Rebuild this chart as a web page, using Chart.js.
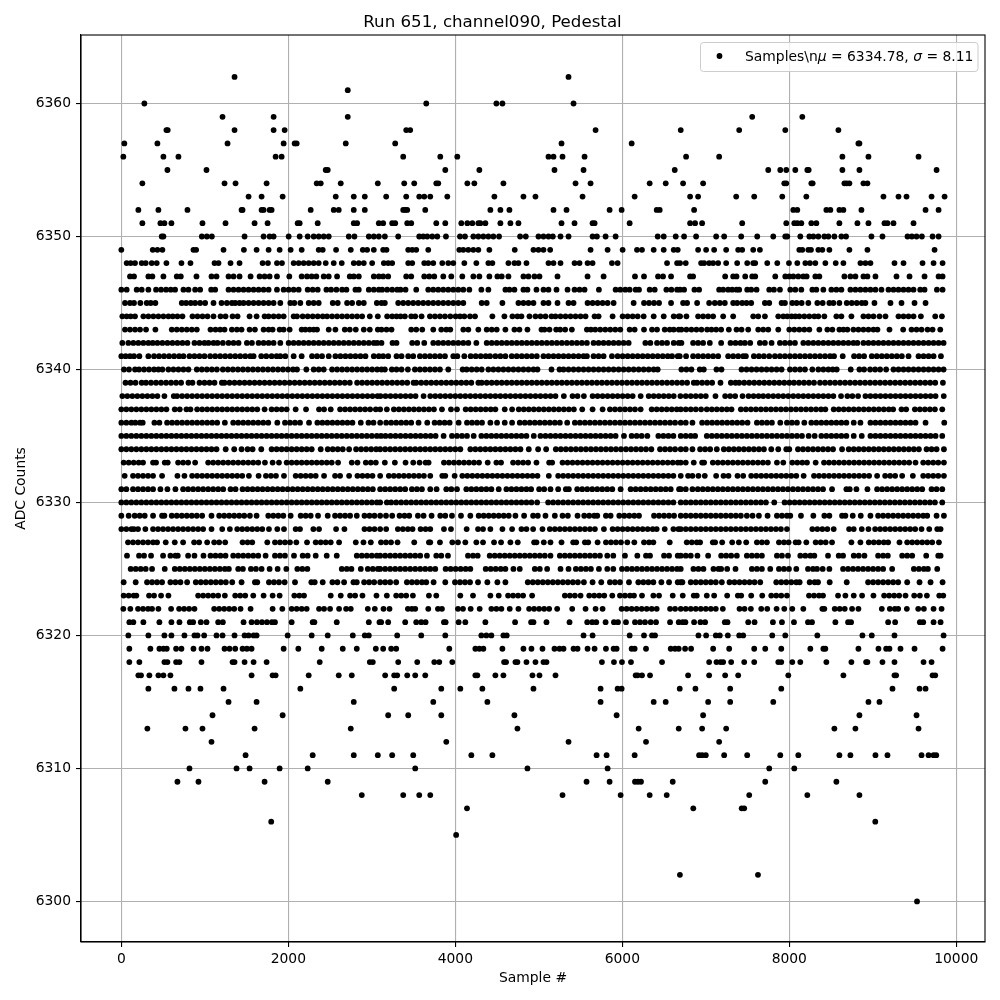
<!DOCTYPE html>
<html>
<head>
<meta charset="utf-8">
<title>Run 651, channel090, Pedestal</title>
<script src="https://cdn.jsdelivr.net/npm/chart.js@4"></script>
<style>
  html, body { margin: 0; padding: 0; background: #fff; }
  canvas { display: block; }
</style>
</head>
<body>
<canvas id="pedestalChart" width="1000" height="1000"></canvas>
<script>
// sample numbers, one list per ADC count
const s6362 = [1356,5356];
const s6361 = [2712];
const s6360 = [276,3652,4492,4564,5416];
const s6359 = [1212,1824,2712,7556,8156];
const s6358 = [540,556,1356,1824,1956,3412,3460,5680,6700,7400,7952,8588];
const s6357 = [36,432,1272,1944,2076,2100,2688,3280,5272,6112,8828,8840];
const s6356 = [24,504,684,1848,1920,3376,3820,4024,5116,5176,5284,5548,6764,7160,8636,8948,9548];
const s6355 = [552,1020,2448,2472,3880,4288,5188,5536,6628,7748,7892,7964,8072,8216,8232,8636,8840,9764];
const s6354 = [252,1236,1368,1740,2340,2388,2628,3072,3388,3508,3772,3796,4144,4228,4576,5440,5620,6328,6520,6728,6968,7940,7964,8264,8280,8660,8688,8720,8888,8936];
const s6353 = [1524,1680,1932,2568,2784,2916,3172,3412,3568,3628,3700,3904,4468,4816,4960,5524,6148,6812,6908,7364,7580,7916,8204,9128,9308,9404,9704,9860];
const s6352 = [204,444,792,1440,1452,1680,1704,1776,1800,2268,2544,2604,2784,2916,3376,3400,3424,3640,4420,4540,4648,5176,5332,5848,5992,6412,6448,6860,8048,8096,8444,8492,8600,8648,8864,9632,9788];
const s6351 = [252,468,516,600,972,1248,1596,1752,2112,2136,2352,2784,2824,3084,3136,3244,3280,3424,3472,3772,3880,4072,4144,4204,4276,4300,4360,4540,4660,4756,5272,5428,5644,5668,6088,6812,6872,6956,7436,7964,8060,8096,8144,8264,8324,8600,8816,8948,9140,9176,9248,9488];
const s6350 = [484,504,964,1024,1084,1476,1704,1776,1824,2004,2136,2232,2304,2364,2424,2484,2724,2792,2964,3024,3084,3156,3316,3568,3616,3664,3724,3784,3888,4056,4116,4216,4276,4336,4396,4456,4524,4776,4844,4996,5056,5116,5168,5260,5356,5644,5696,5800,5920,6424,6496,6640,6740,6884,7124,7220,7424,7616,7808,7952,7976,8132,8240,8288,8348,8420,8468,8540,8624,8680,8984,9116,9416,9468,9524,9588,9716,9788];
const s6349 = [0,376,432,492,864,896,1224,1468,1620,1764,1896,2028,2160,2364,2412,2572,2748,2892,2944,3024,3136,3176,3436,3484,3532,3676,4048,4096,4156,4216,4276,4408,4712,4936,4996,5056,5136,5620,5824,6004,6176,6236,6376,6496,6616,6664,6908,7004,7100,7244,7388,7436,7568,7648,8120,8156,8228,8260,8348,8396,8480,8720,8936,9740];
const s6348 = [64,112,164,244,292,364,424,540,720,828,1116,1164,1308,1416,1692,1756,1864,1924,2064,2124,2184,2244,2304,2364,2448,2544,2640,2784,2844,2904,3004,3144,3196,3244,3436,3484,3628,3676,3736,3844,3916,3976,4108,4252,4396,4444,4636,4708,4756,4852,5116,5176,5260,5428,5488,5584,5644,5876,5944,6536,6656,6692,6760,6944,6980,7040,7088,7148,7244,7376,7496,7568,7592,7736,7856,7996,8096,8192,8248,8312,8432,8556,8648,8852,8912,8972,9260,9368,9596,9728,9836];
const s6347 = [104,152,324,372,504,664,712,900,1080,1140,1284,1344,1416,1548,1656,1716,1776,1864,2012,2160,2224,2280,2336,2424,2484,2584,2736,2784,2844,3024,3084,3136,3196,3412,3472,3628,3688,3748,3856,3952,4084,4216,4288,4408,4504,4556,4636,4816,4876,4948,5008,5224,5584,5776,6152,6260,6428,6488,6584,6812,6848,7232,7328,7368,7472,7556,7592,7832,7952,8000,8048,8108,8168,8208,8312,8360,8660,8732,8792,8888,8936,9032,9284,9440,9620,9788,9836];
const s6346 = [0,64,184,244,324,416,476,536,592,644,744,804,884,944,1076,1124,1284,1344,1404,1464,1524,1584,1644,1704,1764,1864,1944,2004,2064,2124,2232,2292,2352,2456,2512,2576,2644,2696,2804,2844,2964,3024,3084,3124,3184,3244,3304,3344,3404,3532,3676,3736,3796,3856,3916,3976,4036,4096,4168,4312,4396,4600,4648,4708,4816,4864,4972,5056,5116,5212,5344,5428,5488,5548,5720,5920,5976,6036,6088,6160,6200,6328,6388,6528,6588,6656,6692,6740,6864,6920,7160,7208,7268,7316,7368,7400,7496,7544,7608,7760,7816,7888,8012,8072,8144,8276,8324,8408,8504,8564,8624,8732,8792,8852,8912,8972,9032,9104,9188,9248,9308,9368,9428,9488,9568,9620,9768,9836];
const s6345 = [44,104,152,228,304,352,408,724,776,832,884,944,1004,1104,1200,1264,1324,1364,1416,1464,1524,1584,1644,1704,1764,1824,1904,2024,2072,2144,2244,2304,2364,2532,2592,2704,2764,2844,2904,3060,3116,3156,3316,3376,3436,3496,3556,3616,3676,3736,3796,3856,3916,3976,4036,4096,4316,4376,4564,4756,4816,4876,4936,5056,5116,5224,5356,5416,5584,5644,5704,5764,5824,5896,6136,6260,6320,6380,6440,6584,6728,6776,6896,7040,7108,7168,7228,7328,7376,7436,7488,7544,7708,7760,7908,7948,8036,8088,8148,8228,8336,8400,8480,8528,8600,8688,8748,8808,8868,8912,9020,9212,9344,9500,9632];
const s6344 = [12,64,112,164,264,324,384,444,504,564,616,672,732,852,912,972,1032,1104,1188,1248,1332,1392,1536,1620,1716,1764,1824,1884,1944,2064,2104,2172,2232,2292,2352,2412,2464,2524,2584,2644,2704,2764,2824,2884,2976,3072,3184,3244,3296,3344,3396,3472,3520,3596,3696,3756,3816,3876,3940,4004,4056,4108,4176,4236,4444,4588,4684,4744,4792,4888,4960,5020,5080,5152,5200,5260,5320,5380,5440,5500,5560,5668,5716,5884,6004,6064,6124,6184,6256,6376,6496,6616,6676,6692,6768,6908,6968,7028,7088,7208,7328,7568,7628,7708,7868,7928,7976,8028,8072,8120,8180,8240,8300,8348,8420,8564,8624,8744,8888,8948,9008,9080,9152,9308,9368,9428,9488,9576,9748,9828];
const s6343 = [44,104,164,224,296,408,604,664,724,784,844,904,1068,1128,1184,1236,1324,1384,1440,1536,1600,1704,1764,1812,1896,1944,2016,2160,2204,2256,2304,2344,2484,2564,2676,2736,2808,2904,2976,3072,3116,3176,3236,3472,3532,3604,3736,3832,3892,3940,4096,4156,4276,4376,4436,4496,4600,4708,4768,4864,5032,5068,5128,5208,5256,5316,5396,5576,5624,5676,5736,5796,5856,5916,5976,6088,6148,6260,6356,6416,6508,6568,6616,6676,6708,6768,6828,6888,6948,7016,7068,7124,7184,7276,7368,7428,7508,7628,7688,7748,7868,8000,8060,8120,8180,8240,8360,8456,8516,8600,8648,8696,8768,8828,8888,8948,9008,9056,9200,9364,9464,9524,9584,9656,9716,9808];
const s6342 = [12,84,144,204,264,324,376,432,492,552,612,672,732,792,876,936,996,1044,1104,1152,1216,1284,1344,1404,1504,1564,1644,1704,1764,1824,1904,2004,2064,2124,2184,2244,2304,2364,2424,2484,2544,2604,2664,2724,2784,2844,2904,2964,3024,3064,3116,3248,3296,3484,3544,3628,3736,3796,3856,3916,3976,4036,4096,4156,4252,4376,4436,4496,4556,4616,4676,4736,4796,4856,4916,4976,5036,5096,5156,5216,5276,5336,5396,5456,5516,5576,5656,5716,5776,5836,5896,5956,6016,6076,6276,6336,6416,6476,6536,6616,6676,6708,6848,6908,6968,7048,7184,7296,7356,7416,7468,7532,7648,7708,7788,7888,7948,8008,8068,8168,8228,8288,8348,8408,8468,8528,8588,8648,8708,8768,8816,8888,8948,9008,9068,9128,9188,9248,9308,9368,9428,9488,9548,9608,9668,9728,9788,9848];
const s6341 = [0,52,104,152,216,324,392,452,512,572,632,692,744,816,876,936,996,1064,1124,1184,1244,1304,1364,1424,1484,1544,1584,1676,1736,1800,1860,1904,1964,2064,2160,2284,2344,2404,2484,2564,2624,2684,2744,2804,2864,2924,3024,3084,3136,3196,3296,3356,3436,3496,3576,3636,3696,3756,3816,3876,3976,4024,4108,4184,4244,4304,4364,4416,4480,4540,4600,4676,4736,4796,4856,4916,4976,5056,5116,5176,5236,5296,5356,5416,5476,5536,5576,5656,5716,5776,5876,5944,6004,6064,6124,6184,6244,6304,6364,6424,6484,6544,6596,6664,6688,6764,6848,6908,6968,7028,7088,7148,7268,7328,7388,7448,7480,7576,7636,7696,7760,7828,7888,7948,8008,8068,8128,8188,8248,8308,8368,8428,8488,8536,8640,8776,8836,8896,8988,9048,9108,9168,9228,9288,9348,9428,9548,9608,9668,9728,9816];
const s6340 = [32,92,164,212,272,332,392,444,492,564,624,684,744,804,904,964,1024,1084,1144,1216,1276,1336,1396,1456,1516,1576,1636,1696,1756,1816,1876,1936,1996,2056,2104,2216,2304,2364,2424,2524,2584,2644,2704,2764,2824,2884,2944,3004,3064,3116,3156,3240,3296,3356,3432,3516,3576,3636,3696,3756,3816,3916,4088,4136,4196,4256,4316,4396,4456,4516,4576,4636,4696,4756,4816,4876,4936,4984,5152,5248,5296,5356,5416,5476,5536,5596,5656,5716,5776,5836,5896,5956,6016,6076,6136,6196,6256,6316,6376,6424,6708,6768,6828,6928,6976,7128,7188,7428,7488,7548,7608,7668,7728,7788,7848,7908,8008,8068,8128,8188,8276,8348,8408,8468,8520,8568,8736,8840,8896,8968,9028,9088,9160,9248,9308,9368,9428,9488,9548,9608,9668,9728,9788,9848];
const s6339 = [50,110,170,244,296,356,416,476,536,596,656,716,804,852,936,996,1056,1116,1204,1236,1296,1356,1416,1476,1536,1596,1656,1716,1776,1836,1896,1956,2016,2076,2136,2196,2256,2316,2376,2436,2496,2556,2616,2676,2736,2824,2884,2944,3004,3064,3124,3184,3244,3304,3364,3424,3500,3532,3592,3652,3712,3772,3832,3892,3952,4012,4072,4132,4192,4276,4316,4376,4436,4496,4556,4616,4676,4736,4796,4856,4916,4976,5036,5096,5156,5216,5276,5336,5396,5456,5516,5576,5636,5696,5756,5816,5876,5936,5996,6056,6116,6176,6236,6296,6356,6416,6476,6536,6596,6656,6716,6776,6856,6896,6956,7016,7076,7176,7300,7356,7400,7460,7520,7580,7640,7700,7760,7820,7880,7940,8000,8056,8116,8176,8236,8296,8368,8428,8488,8548,8608,8668,8728,8788,8848,8908,8968,9028,9088,9148,9208,9268,9328,9388,9448,9508,9568,9628,9688,9748,9840];
const s6338 = [12,72,132,192,252,312,372,432,516,628,668,728,788,848,908,968,1028,1088,1148,1208,1268,1328,1388,1448,1508,1568,1628,1688,1748,1808,1868,1928,1988,2048,2108,2168,2228,2288,2348,2408,2468,2528,2588,2648,2708,2768,2828,2888,2948,3008,3068,3104,3164,3224,3284,3344,3404,3464,3524,3620,3700,3760,3820,3880,3940,4000,4060,4120,4180,4240,4300,4360,4420,4480,4540,4600,4660,4720,4780,4840,4900,4960,5020,5080,5140,5200,5300,5404,5464,5540,5644,5704,5764,5824,5884,5944,6004,6064,6124,6220,6316,6376,6436,6496,6556,6616,6696,6760,6820,6880,6940,7000,7116,7232,7292,7352,7440,7512,7572,7632,7688,7748,7808,7868,7928,7988,8048,8108,8168,8228,8288,8348,8408,8468,8528,8620,8696,8756,8824,8912,8972,9032,9092,9152,9212,9272,9332,9392,9452,9512,9572,9632,9692,9752,9850];
const s6337 = [0,60,120,180,240,300,360,420,480,540,640,700,780,828,908,968,1028,1088,1148,1208,1268,1328,1388,1448,1508,1568,1628,1716,1800,1860,1920,1980,2088,2212,2368,2428,2508,2620,2680,2740,2800,2860,2920,2980,3048,3100,3180,3264,3324,3384,3444,3504,3564,3624,3684,3744,3840,3948,4020,4124,4184,4244,4304,4364,4424,4480,4592,4680,4760,4820,4880,4940,5000,5060,5120,5180,5240,5300,5360,5420,5520,5644,5764,5852,5912,5972,6032,6092,6152,6220,6352,6412,6472,6532,6592,6652,6700,6760,6820,6880,6944,7012,7072,7132,7192,7252,7308,7420,7480,7540,7600,7660,7720,7780,7840,7900,7960,8020,8080,8140,8200,8260,8320,8380,8432,8532,8592,8652,8712,8772,8832,8892,8952,9012,9072,9132,9192,9244,9344,9400,9504,9564,9624,9684,9744,9832];
const s6336 = [0,60,120,168,224,256,396,456,548,608,668,728,788,848,908,968,1028,1088,1148,1240,1340,1400,1460,1520,1580,1640,1700,1760,1868,1960,2020,2080,2140,2248,2348,2408,2468,2528,2588,2648,2708,2768,2868,2960,3020,3100,3172,3232,3292,3352,3412,3472,3560,3664,3752,3812,3872,3932,4040,4140,4200,4260,4320,4420,4500,4592,4680,4772,4832,4892,4952,5012,5072,5132,5192,5252,5340,5432,5492,5552,5612,5672,5732,5792,5852,5912,5972,6032,6092,6152,6212,6272,6332,6392,6452,6512,6572,6632,6700,6760,6840,6956,7016,7076,7136,7196,7256,7316,7376,7436,7500,7612,7672,7732,7792,7892,7972,8032,8092,8180,8264,8324,8384,8444,8504,8564,8624,8684,8772,8852,8972,9032,9092,9152,9212,9272,9332,9392,9452,9512,9632,9856];
const s6335 = [0,60,120,180,240,300,360,420,480,540,600,660,720,780,840,900,960,1020,1080,1140,1200,1260,1320,1380,1440,1500,1560,1620,1680,1740,1800,1860,1920,1980,2040,2100,2160,2220,2280,2340,2400,2460,2520,2580,2640,2700,2760,2820,2880,2940,3000,3060,3110,3164,3224,3284,3344,3404,3464,3524,3584,3644,3704,3764,3860,3960,4020,4080,4140,4220,4312,4372,4432,4492,4552,4612,4672,4732,4792,4852,4940,5020,5080,5140,5200,5260,5320,5380,5440,5500,5560,5620,5680,5740,5800,5860,5920,6020,6112,6172,6232,6300,6432,6492,6552,6612,6700,6760,6820,6872,7012,7072,7132,7192,7252,7312,7372,7432,7492,7552,7612,7672,7732,7792,7852,7912,7972,8032,8092,8152,8232,8304,8384,8444,8504,8564,8624,8684,8772,8868,8972,9032,9092,9152,9212,9272,9332,9392,9452,9512,9572,9632,9692,9752,9832];
const s6334 = [0,60,120,180,240,300,360,420,480,540,600,660,720,780,840,900,960,1020,1080,1140,1250,1352,1440,1512,1572,1676,1800,1860,1920,1980,2040,2100,2160,2220,2280,2388,2472,2532,2592,2652,2728,2812,2872,2932,2992,3052,3100,3160,3220,3280,3340,3400,3460,3520,3580,3640,3700,3760,3820,3880,3940,4000,4060,4180,4240,4300,4360,4420,4480,4540,4600,4660,4720,4780,4880,4992,5088,5204,5264,5324,5384,5444,5504,5564,5624,5684,5744,5804,5864,5924,5984,6044,6104,6164,6224,6284,6348,6452,6512,6572,6632,6700,6760,6840,6932,6992,7052,7132,7216,7276,7336,7396,7456,7516,7576,7636,7696,7784,7868,7964,8000,8104,8164,8224,8284,8344,8404,8464,8524,8632,8712,8772,8832,8892,8952,9012,9072,9132,9192,9252,9312,9372,9432,9492,9552,9644,9704,9764,9852];
const s6333 = [28,88,148,208,260,380,416,520,556,680,740,800,884,1040,1100,1160,1220,1280,1340,1400,1460,1520,1580,1640,1720,1812,1888,1980,2040,2100,2160,2220,2280,2340,2400,2460,2520,2596,2760,2828,2928,2988,3048,3156,3276,3404,3496,3572,3644,3680,3864,3924,3984,4044,4104,4164,4224,4284,4388,4492,4548,4692,4752,4812,4872,4972,5124,5160,5284,5344,5404,5464,5524,5584,5644,5704,5764,5824,5884,5944,6004,6064,6124,6184,6244,6304,6364,6424,6484,6544,6604,6664,6700,6760,6856,6956,6980,7084,7144,7204,7264,7324,7384,7444,7504,7564,7624,7684,7744,7852,7928,8036,8096,8156,8212,8316,8416,8476,8536,8596,8656,8716,8776,8836,8896,8956,9016,9076,9136,9196,9256,9316,9376,9436,9512,9604,9664,9724,9784,9852];
const s6332 = [40,140,200,260,320,380,488,672,756,848,908,968,1028,1088,1148,1208,1268,1328,1388,1448,1528,1644,1732,1792,1852,1948,2088,2148,2208,2268,2328,2428,2560,2620,2728,2828,2888,2948,3008,3100,3204,3264,3324,3384,3444,3504,3564,3624,3700,3844,3880,3992,4084,4144,4204,4264,4324,4384,4444,4504,4564,4624,4684,4744,4804,4864,4924,4984,5120,5232,5292,5352,5412,5472,5532,5592,5652,5712,5772,5832,5892,5952,6012,6072,6132,6192,6252,6312,6372,6432,6492,6552,6612,6700,6788,6840,6912,6988,7124,7212,7272,7380,7448,7544,7604,7664,7724,7784,7844,7904,7964,8024,8084,8172,8296,8356,8416,8476,8536,8596,8656,8716,8776,8836,8896,8956,9052,9148,9208,9268,9352,9480,9604,9664,9724,9784,9852];
const s6331 = [0,60,140,200,260,320,380,468,552,648,740,800,860,920,980,1040,1100,1160,1220,1308,1368,1452,1512,1572,1632,1692,1752,1812,1872,1932,1992,2052,2112,2172,2232,2292,2352,2412,2472,2532,2592,2652,2712,2772,2832,2892,2952,3012,3100,3160,3220,3280,3340,3400,3480,3540,3600,3700,3776,3892,3952,4020,4132,4192,4252,4312,4372,4432,4520,4612,4672,4732,4792,4852,4908,5004,5064,5140,5232,5324,5360,5460,5520,5580,5640,5700,5760,5820,5880,5980,6100,6160,6220,6280,6340,6400,6460,6520,6580,6680,6700,6760,6840,6904,6964,7024,7084,7144,7204,7264,7324,7384,7444,7504,7564,7624,7684,7744,7804,7864,7924,7984,8044,8104,8164,8224,8284,8344,8404,8512,8684,8724,8804,8936,9052,9112,9172,9232,9292,9352,9412,9472,9532,9592,9704,9764,9832];
const s6330 = [0,60,120,180,240,300,360,420,480,540,600,660,720,780,840,900,960,1020,1080,1140,1200,1260,1320,1380,1440,1500,1560,1620,1680,1740,1800,1860,1920,1980,2040,2100,2160,2220,2280,2340,2400,2460,2520,2580,2640,2700,2760,2820,2880,2940,3000,3060,3100,3180,3232,3292,3352,3412,3472,3532,3592,3652,3712,3772,3832,3892,3952,4012,4072,4132,4192,4252,4312,4372,4432,4492,4552,4612,4672,4732,4792,4852,4912,4980,5112,5172,5232,5292,5352,5412,5472,5532,5592,5652,5712,5772,5832,5892,5952,6012,6072,6132,6192,6252,6312,6372,6432,6492,6552,6612,6700,6760,6820,6880,6940,7000,7060,7120,7180,7240,7300,7360,7420,7480,7540,7600,7660,7720,7820,7944,8004,8064,8124,8184,8244,8304,8364,8424,8484,8544,8604,8664,8724,8784,8844,8904,8964,9024,9084,9144,9204,9264,9324,9384,9444,9504,9564,9624,9684,9744,9832];
const s6329 = [0,88,160,220,280,380,488,516,604,664,724,784,844,904,968,1080,1172,1232,1292,1352,1412,1472,1540,1620,1760,1820,1880,1940,2028,2148,2208,2268,2356,2472,2560,2620,2680,2740,2820,2912,2972,3032,3100,3170,3244,3332,3392,3448,3552,3620,3716,3820,3880,3960,4068,4180,4280,4340,4400,4460,4520,4580,4640,4720,4824,4932,4988,5080,5192,5284,5348,5464,5544,5604,5664,5700,5804,5860,5964,6024,6084,6144,6200,6380,6440,6500,6560,6620,6700,6760,6820,6880,6940,7000,7060,7120,7180,7240,7300,7360,7420,7492,7560,7636,7740,7852,7912,7972,8012,8140,8288,8420,8480,8632,8672,8760,8856,8972,9064,9124,9184,9244,9304,9364,9424,9484,9544,9604,9652,9764,9852];
const s6328 = [0,60,120,150,200,288,380,440,500,560,620,680,740,800,860,920,980,1080,1208,1300,1388,1448,1508,1568,1628,1688,1768,1868,1948,2088,2140,2300,2368,2572,2672,2912,2972,3032,3100,3172,3312,3372,3432,3488,3584,3644,3700,3864,3948,4136,4272,4332,4420,4564,4680,4792,4852,4932,5044,5132,5192,5252,5312,5372,5432,5492,5552,5612,5672,5780,5884,5944,6004,6064,6124,6184,6244,6304,6364,6412,6508,6612,6672,6700,6760,6820,6880,6940,7000,7060,7120,7180,7240,7300,7360,7420,7480,7540,7600,7660,7720,7780,7840,7900,7972,8276,8336,8396,8456,8532,8716,8772,8868,8948,9028,9088,9148,9208,9268,9328,9388,9448,9508,9584,9676,9772,9812];
const s6327 = [80,140,200,260,320,380,428,532,640,740,872,932,1028,1112,1172,1244,1452,1512,1568,1748,1840,1900,1960,2020,2096,2224,2328,2388,2448,2508,2608,2808,2900,2988,3110,3170,3230,3308,3508,3684,3700,3816,3964,4032,4120,4252,4332,4464,4548,4660,4748,4944,4972,5060,5140,5272,5412,5448,5552,5592,5704,5804,5864,5924,5984,6060,6144,6260,6320,6372,6568,6772,6832,6892,6932,7084,7112,7196,7316,7396,7484,7612,7672,7732,7876,7936,7992,8076,8112,8204,8316,8376,8436,8512,8744,8852,8952,9012,9072,9132,9184,9320,9412,9472,9532,9592,9652,9712,9792];
const s6326 = [68,212,272,356,500,588,648,676,800,876,984,1068,1128,1188,1248,1340,1400,1460,1520,1580,1640,1728,1840,1900,1960,2068,2172,2232,2328,2460,2580,2820,2880,2940,3000,3060,3100,3160,3220,3280,3340,3400,3460,3520,3580,3660,3772,3832,3912,4152,4212,4268,4412,4472,4532,4592,4652,4712,4772,4832,4892,4952,5012,5072,5140,5252,5312,5372,5432,5492,5552,5612,5672,5732,5820,5892,6032,6180,6284,6332,6500,6560,6664,6700,6760,6820,6900,7028,7184,7244,7304,7372,7492,7552,7612,7672,7852,7912,7984,8132,8192,8252,8300,8464,8592,8644,8772,8832,8900,9064,9124,9180,9352,9412,9472,9640,9784,9812];
const s6325 = [112,172,232,292,368,520,640,700,760,820,880,940,1000,1060,1120,1180,1240,1288,1400,1456,1552,1612,1680,1776,1872,1976,2108,2168,2228,2640,2700,2756,2868,2952,3012,3072,3100,3160,3220,3280,3340,3400,3460,3520,3580,3640,3700,3760,3884,3944,4004,4064,4124,4180,4364,4424,4484,4544,4600,4696,4772,4952,5012,5100,5260,5356,5444,5504,5564,5624,5720,5820,5892,5996,6056,6116,6176,6236,6296,6356,6416,6476,6536,6596,6656,6700,6852,6912,6972,7092,7152,7184,7256,7356,7552,7612,7672,7772,7876,7936,7996,8084,8224,8284,8332,8400,8480,8644,8704,8764,8824,8884,8944,9004,9064,9124,9232,9492,9552,9612,9660,9772];
const s6324 = [28,172,308,368,428,488,588,648,708,788,892,952,1012,1072,1132,1192,1252,1328,1440,1600,1628,1768,1828,1888,1956,2080,2276,2316,2412,2528,2588,2668,2780,2820,2908,2968,3028,3100,3160,3220,3292,3420,3480,3540,3600,3652,3740,3880,3996,4056,4116,4176,4272,4384,4504,4600,4868,4928,4988,5048,5108,5168,5228,5288,5348,5408,5468,5540,5644,5748,5852,5912,5972,6080,6192,6252,6312,6372,6468,6560,6664,6700,6720,6820,6880,6940,7000,7060,7120,7192,7284,7344,7404,7464,7524,7584,7652,7844,7904,7964,8024,8084,8124,8244,8304,8344,8484,8688,8944,9004,9064,9124,9184,9244,9304,9412,9560,9692,9836];
const s6323 = [28,88,148,180,332,392,476,564,920,980,1040,1100,1160,1240,1364,1424,1484,1580,1704,1812,1896,2072,2132,2188,2508,2628,2740,2800,2888,3056,3180,3292,3352,3412,3492,3684,3772,4060,4212,4420,4520,4632,4692,4752,4812,4920,5312,5372,5432,5500,5604,5664,5724,5784,5880,5972,6032,6092,6140,6236,6372,6440,6604,6724,6856,6892,7012,7100,7256,7384,7424,7544,7676,7784,7844,7904,7972,8236,8296,8356,8404,8584,8672,8772,8872,9008,9136,9196,9256,9316,9392,9496,9564,9648,9796,9844];
const s6322 = [24,108,200,260,320,368,444,596,692,752,812,876,1112,1172,1232,1292,1352,1428,1548,1812,1928,2040,2100,2160,2220,2368,2428,2500,2608,2692,2748,2952,3036,3140,3212,3432,3480,3520,3676,3792,3840,4032,4092,4184,4292,4432,4492,4552,4652,4756,4884,4944,5004,5064,5124,5220,5400,5560,5680,5764,5992,6052,6112,6172,6232,6292,6352,6412,6572,6632,6700,6760,6820,6880,6940,7000,7060,7120,7204,7404,7464,7540,7664,7736,7848,7940,8036,8168,8396,8420,8544,8604,8664,8752,8828,9108,9204,9264,9304,9408,9544,9612,9728,9824];
const s6321 = [96,144,264,456,600,696,820,860,952,1020,1160,1216,1464,1560,1624,1684,1744,1804,1840,2040,2292,2312,2580,2964,3092,3112,3196,3400,3532,3592,3644,3864,3884,4040,4120,4360,4716,4908,4936,5092,5368,5580,5640,5688,5800,5900,5948,6044,6152,6212,6272,6340,6404,6572,6676,6724,6756,6860,6936,6992,7228,7260,7508,7584,7804,7912,8056,8224,8272,8552,8704,8740,9184,9268,9564,9604,9728,9812];
const s6320 = [84,324,516,600,756,876,912,992,1140,1212,1356,1476,1524,1584,1620,1992,2280,2472,2772,2916,2964,3304,3592,3880,4312,4372,4432,4576,4616,5536,5644,6088,6260,6356,6392,6912,7004,7120,7168,7264,7400,7448,7796,7952,8336,8876,8988,9260,9848];
const s6319 = [96,348,456,504,544,656,720,864,960,1032,1236,1296,1364,1452,1504,1560,1944,2120,2400,2652,2820,3048,3136,3232,3292,3928,4240,4288,4336,4564,4816,4912,5044,5188,5248,5296,5416,5464,5584,5668,5804,5896,5932,6112,6148,6284,6580,6632,6676,6752,6824,7088,7280,7580,7712,7904,8252,8408,8432,8828,9068,9160,9200,9332,9500,9836];
const s6318 = [96,216,516,552,656,696,960,1332,1356,1476,1584,1740,2376,2976,3012,3316,3544,3748,3808,3964,4584,4608,4720,4744,4852,4960,5056,5092,5756,5900,5996,6104,6476,7040,7128,7176,7208,7304,7460,7580,7868,7904,8036,8132,8444,8744,8920,8936,9116,9260,9608,9704];
const s6317 = [204,236,336,444,504,588,1560,1812,1848,2244,2604,2760,3160,3268,3304,3424,3520,3640,4240,4264,4480,4576,4924,5008,5200,6160,6184,6236,6332,6788,7040,7232,7388,7988,8648,9260,9280,9716,9748];
const s6316 = [324,636,804,948,1224,2144,3268,3832,4060,4324,4936,5740,5944,5992,6688,6876,7292,7904,9236,9560,9632];
const s6315 = [1284,1620,2784,3736,4384,5740,6376,6520,7028,7292,7808,8948,9080];
const s6314 = [1092,1932,3196,3436,3832,4708,5932,6968,8840,9524];
const s6313 = [312,768,972,1596,2748,4744,6196,6676,6956,7244,8540,8792,9548];
const s6312 = [1080,3892,5356,6284,7160];
const s6311 = [1488,2292,2784,3072,3244,3496,4192,4444,5692,5812,6148,6920,6956,7000,7220,7496,7892,8108,8600,8732,9032,9176,9584,9668,9728,9760];
const s6310 = [816,1380,1536,1896,2232,3520,4864,5824,7760,8060];
const s6309 = [672,924,1716,2472,5572,5848,6152,6188,6224,6604,7712,8564];
const s6308 = [2880,3376,3568,3700,5284,5980,6328,6532,7520,8216,8840];
const s6307 = [4140,6850,7430,7460];
const s6306 = [1795,9030];
const s6305 = [4010];
const s6302 = [6690,7625];
const s6300 = [9530];

const adcRows = [
  [6362,s6362],[6361,s6361],[6360,s6360],[6359,s6359],[6358,s6358],[6357,s6357],[6356,s6356],[6355,s6355],
  [6354,s6354],[6353,s6353],[6352,s6352],[6351,s6351],[6350,s6350],[6349,s6349],[6348,s6348],[6347,s6347],
  [6346,s6346],[6345,s6345],[6344,s6344],[6343,s6343],[6342,s6342],[6341,s6341],[6340,s6340],[6339,s6339],
  [6338,s6338],[6337,s6337],[6336,s6336],[6335,s6335],[6334,s6334],[6333,s6333],[6332,s6332],[6331,s6331],
  [6330,s6330],[6329,s6329],[6328,s6328],[6327,s6327],[6326,s6326],[6325,s6325],[6324,s6324],[6323,s6323],
  [6322,s6322],[6321,s6321],[6320,s6320],[6319,s6319],[6318,s6318],[6317,s6317],[6316,s6316],[6315,s6315],
  [6314,s6314],[6313,s6313],[6312,s6312],[6311,s6311],[6310,s6310],[6309,s6309],[6308,s6308],[6307,s6307],
  [6306,s6306],[6305,s6305],[6302,s6302],[6300,s6300]
];

const xTicks = [0, 2000, 4000, 6000, 8000, 10000];
const yTicks = [6300, 6310, 6320, 6330, 6340, 6350, 6360];

const FONT = '"DejaVu Sans"';

const points = [];
adcRows.forEach(([adc, samples]) => {
  samples.forEach(s => points.push({ x: s, y: adc }));
});

// matplotlib style legend box with the italic mu and sigma
const mplLegend = {
  id: 'mplLegend',
  afterDraw(chart) {
    const c = chart.ctx;
    c.save();
    c.beginPath();
    c.roundRect(700.5, 42.5, 277.5, 29, 3);
    c.fillStyle = 'rgba(255,255,255,0.8)';
    c.fill();
    c.strokeStyle = '#cccccc';
    c.lineWidth = 1;
    c.stroke();
    c.beginPath();
    c.arc(719.5, 56, 2.9, 0, Math.PI * 2);
    c.fillStyle = '#000';
    c.fill();
    const parts = [
      ['Samples\\n', 'normal'],
      ['\u03bc', 'oblique'],
      [' = 6334.78, ', 'normal'],
      ['\u03c3', 'oblique'],
      [' = 8.11', 'normal']
    ];
    let x = 745;
    c.textBaseline = 'alphabetic';
    parts.forEach(([txt, style]) => {
      c.font = style + ' 13.89px ' + FONT;
      c.fillText(txt, x, 61);
      x += c.measureText(txt).width;
    });
    c.restore();
  }
};

// closes the frame on all four sides
const frame = {
  id: 'frame',
  afterDatasetsDraw(chart) {
    const a = chart.chartArea;
    const c = chart.ctx;
    c.save();
    c.strokeStyle = '#000';
    c.lineWidth = 1.1;
    c.strokeRect(a.left, a.top, a.right - a.left, a.bottom - a.top);
    c.restore();
  }
};

new Chart(document.getElementById('pedestalChart').getContext('2d'), {
  type: 'scatter',
  data: {
    datasets: [{
      label: 'Samples\\n\u03bc = 6334.78, \u03c3 = 8.11',
      data: points,
      backgroundColor: '#000',
      borderColor: '#000',
      pointRadius: 2.9,
      pointBorderWidth: 0,
      pointHoverRadius: 2.9
    }]
  },
  options: {
    responsive: false,
    animation: false,
    events: [],
    layout: { autoPadding: false, padding: { right: 15 } },
    scales: {
      x: {
        type: 'linear',
        min: -483,
        max: 10344,
        afterFit(s) { s.height = 58; },
        afterBuildTicks(s) { s.ticks = xTicks.map(v => ({ value: v })); },
        grid: { color: '#b0b0b0', lineWidth: 1.1, tickColor: '#000', tickLength: 5, tickWidth: 1.1 },
        border: { color: '#000', width: 1.1 },
        ticks: { color: '#000', padding: 4, maxRotation: 0, autoSkip: false, font: { family: FONT, size: 13.89 }, callback: v => String(v) },
        title: { display: true, text: 'Sample #', color: '#000', font: { family: FONT, size: 13.89 }, padding: { top: 0, bottom: 13.7 } }
      },
      y: {
        type: 'linear',
        min: 6296.95,
        max: 6365.15,
        afterFit(s) { s.width = 81; },
        afterBuildTicks(s) { s.ticks = yTicks.map(v => ({ value: v })); },
        grid: { color: '#b0b0b0', lineWidth: 1.1, tickColor: '#000', tickLength: 5, tickWidth: 1.1 },
        border: { color: '#000', width: 1.1 },
        ticks: { color: '#000', padding: 5, autoSkip: false, font: { family: FONT, size: 13.89 }, callback: v => String(v) },
        title: { display: true, text: 'ADC Counts', color: '#000', font: { family: FONT, size: 13.89 }, padding: { top: 12.7, bottom: 0 } }
      }
    },
    plugins: {
      legend: { display: false },
      tooltip: { enabled: false },
      title: { display: true, text: 'Run 651, channel090, Pedestal', color: '#000', font: { family: FONT, size: 16.67, weight: 'normal' }, padding: { top: 13, bottom: 2 } }
    }
  },
  plugins: [frame, mplLegend]
});
</script>
</body>
</html>
